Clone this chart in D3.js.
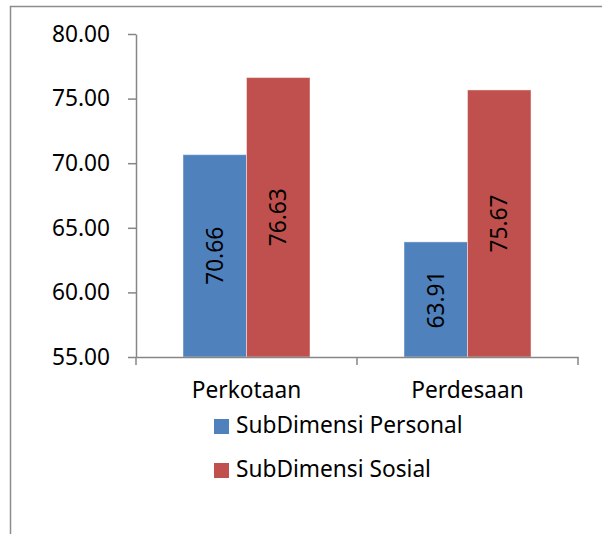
<!DOCTYPE html>
<html>
<head>
<meta charset="utf-8">
<script src="https://cdn.jsdelivr.net/npm/d3@7"></script>
<style>
  body { margin: 0; background: #fff; }
  text { font-family: "Noto Sans", "Open Sans", sans-serif; fill: #000; }
</style>
</head>
<body>
<script>
var categories = ['Perkotaan', 'Perdesaan'];
var seriesNames = ['SubDimensi Personal', 'SubDimensi Sosial'];
var personal = [70.66, 63.91];
var sosial = [76.63, 75.67];
var yTicks = [55, 60, 65, 70, 75, 80];

var colors = ['#4F81BD', '#C0504D'];
var width = 602, height = 534;
var plotLeft = 136, plotRight = 578, plotTop = 34, plotBottom = 357;
var fontSize = '22.7px';

var svg = d3.select('body').append('svg')
  .attr('width', width)
  .attr('height', height);

// outer chart frame (runs off the right and bottom edge)
svg.append('rect')
  .attr('x', 10.5).attr('y', 6.5)
  .attr('width', 700).attr('height', 700)
  .attr('fill', 'none')
  .attr('stroke', '#8c8c8c')
  .attr('stroke-width', 1.5);

var yScale = d3.scaleLinear()
  .domain([55, 80])
  .range([plotBottom, plotTop]);

var xScale = d3.scaleBand()
  .domain(categories)
  .range([plotLeft, plotRight]);

var inner = d3.scaleBand()
  .domain(d3.range(seriesNames.length))
  .range([0, xScale.bandwidth()])
  .paddingOuter(0.74)
  .paddingInner(0);

var series = [personal, sosial];
var barData = [];
categories.forEach(function(c, i) {
  series.forEach(function(s, j) {
    barData.push({cat: c, s: j, value: s[i]});
  });
});

// bars
svg.selectAll('rect.bar')
  .data(barData)
  .enter().append('rect')
    .attr('class', 'bar')
    .attr('x', function(d) { return xScale(d.cat) + inner(d.s); })
    .attr('y', function(d) { return yScale(d.value); })
    .attr('width', inner.bandwidth())
    .attr('height', function(d) { return plotBottom - yScale(d.value); })
    .style('fill', function(d) { return colors[d.s]; })
    .style('stroke', 'rgba(255,255,255,0.45)')
    .style('stroke-width', 1);

// value labels, rotated
svg.selectAll('text.val')
  .data(barData)
  .enter().append('text')
    .attr('class', 'val')
    .attr('transform', function(d) {
      var cx = xScale(d.cat) + inner(d.s) + inner.bandwidth() / 2;
      var cy = (yScale(d.value) + plotBottom) / 2;
      return 'translate(' + cx + ',' + cy + ') rotate(-90)';
    })
    .attr('text-anchor', 'middle')
    .attr('dy', '0.36em')
    .style('font-size', fontSize)
    .text(function(d) { return d.value.toFixed(2); });

// y axis
var yAxis = d3.axisLeft(yScale)
  .tickValues(yTicks)
  .tickFormat(d3.format('.2f'))
  .tickSize(8)
  .tickSizeOuter(0);

var gy = svg.append('g')
  .attr('transform', 'translate(' + plotLeft + ',0)')
  .call(yAxis);
gy.select('.domain').attr('stroke', '#868686').attr('stroke-width', 1.5);
gy.selectAll('.tick line').attr('stroke', '#868686').attr('stroke-width', 1.5);
gy.selectAll('.tick text')
  .attr('x', -26)
  .style('font-size', fontSize)
  .style('font-family', '"Noto Sans", sans-serif')
  .attr('fill', '#000');

// x axis
var xAxis = d3.axisBottom(xScale)
  .tickSize(0)
  .tickSizeOuter(0);

var gx = svg.append('g')
  .attr('transform', 'translate(0,' + plotBottom + ')')
  .call(xAxis);
gx.select('.domain').attr('stroke', '#868686').attr('stroke-width', 1.5);
gx.selectAll('.tick text')
  .attr('dy', 0)
  .attr('y', 41)
  .style('font-size', fontSize)
  .style('font-family', '"Noto Sans", sans-serif')
  .attr('fill', '#000');

// category divider ticks
var dividers = [plotLeft, plotLeft + xScale.step(), plotRight];
svg.selectAll('line.div')
  .data(dividers)
  .enter().append('line')
    .attr('class', 'div')
    .attr('x1', function(d) { return d; })
    .attr('x2', function(d) { return d; })
    .attr('y1', plotBottom)
    .attr('y2', plotBottom + 8)
    .attr('stroke', '#868686')
    .attr('stroke-width', 1.5);

// legend
var legend = svg.selectAll('g.legend')
  .data(seriesNames)
  .enter().append('g')
    .attr('class', 'legend')
    .attr('transform', function(d, i) { return 'translate(214,' + (419 + i * 44) + ')'; });

legend.append('rect')
  .attr('width', 15)
  .attr('height', 15)
  .style('fill', function(d, i) { return colors[i]; });

legend.append('text')
  .attr('x', 22)
  .attr('y', 14)
  .style('font-size', fontSize)
  .text(function(d) { return d; });
</script>
</body>
</html>
